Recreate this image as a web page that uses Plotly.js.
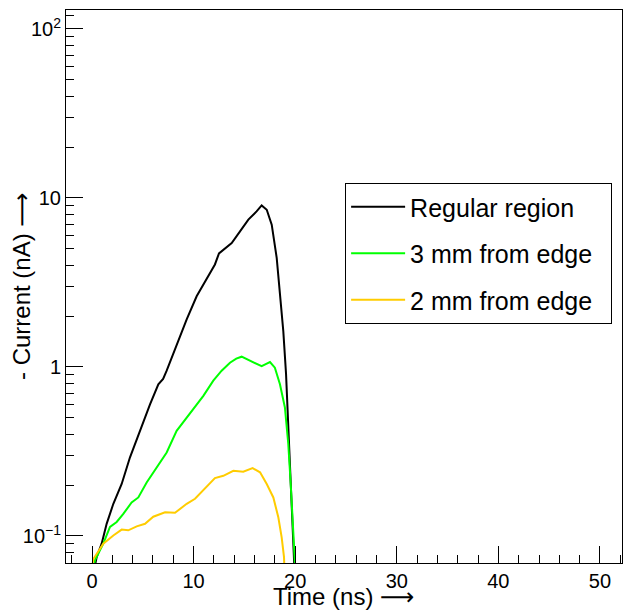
<!DOCTYPE html>
<html>
<head>
<meta charset="utf-8">
<script src="https://cdn.plot.ly/plotly-3.0.1.min.js"></script>
<style>html,body{margin:0;padding:0;background:#fff}#plot{width:628px;height:613px}</style>
</head>
<body>
<div id="plot"></div>
<script>
// Time (ns) and -Current (nA)
const regularTime = [0.0, 0.46, 0.95, 1.44, 2.1, 2.92, 3.74, 4.72, 5.71, 6.53, 7.0, 7.35, 8.33, 9.32, 10.3, 11.29, 12.1, 12.5, 12.93, 13.75, 14.57, 15.39, 16.2, 16.7, 17.2, 17.69, 18.18, 18.5, 18.83, 19.1, 19.32, 19.56, 19.75, 19.88, 20.0];
const regularCurrent = [0.055, 0.075, 0.090, 0.118, 0.155, 0.203, 0.292, 0.419, 0.60, 0.79, 0.85, 0.95, 1.36, 1.91, 2.62, 3.29, 4.04, 4.7, 4.95, 5.41, 6.34, 7.44, 8.32, 9.03, 8.51, 6.95, 4.42, 2.81, 1.63, 0.91, 0.46, 0.233, 0.118, 0.075, 0.05];

const edge3Time = [0.0, 0.3, 1.11, 1.77, 2.43, 3.08, 3.9, 4.56, 5.38, 6.36, 7.35, 8.33, 9.32, 10.14, 10.96, 11.94, 12.76, 13.58, 14.2, 14.73, 15.72, 16.7, 17.1, 17.52, 18.0, 18.5, 18.99, 19.32, 19.56, 19.75, 19.98, 20.1];
const edge3Current = [0.06, 0.072, 0.090, 0.113, 0.121, 0.135, 0.158, 0.169, 0.207, 0.255, 0.312, 0.419, 0.502, 0.575, 0.675, 0.83, 0.95, 1.06, 1.12, 1.15, 1.08, 1.01, 1.04, 1.07, 0.99, 0.79, 0.575, 0.35, 0.203, 0.118, 0.075, 0.05];

const edge2Time = [0.0, 0.13, 1.11, 2.1, 2.92, 3.57, 4.4, 5.22, 6.03, 7.19, 8.17, 9.32, 10.14, 11.12, 12.1, 12.93, 13.91, 14.89, 15.81, 16.54, 17.2, 17.85, 18.34, 18.67, 18.9, 19.0];
const edge2Current = [0.065, 0.073, 0.090, 0.1007, 0.109, 0.108, 0.114, 0.118, 0.130, 0.138, 0.137, 0.155, 0.166, 0.19, 0.22, 0.227, 0.243, 0.24, 0.252, 0.238, 0.203, 0.169, 0.129, 0.098, 0.075, 0.05];

const seriesNames = ["Regular region", "3 mm from edge", "2 mm from edge"];
const seriesColors = ["#000000", "#00ff00", "#ffcc00"];

const yMajorVals = [0.1, 1, 10, 100];
const yMajorText = ["10<sup>\u22121</sup>", "1", "10", "10<sup>2</sup>"];
const yMinorVals = [0.07, 0.08, 0.09, 0.2, 0.3, 0.4, 0.5, 0.6, 0.7, 0.8, 0.9, 2, 3, 4, 5, 6, 7, 8, 9, 20, 30, 40, 50, 60, 70, 80, 90, 120];

const xTitle = "Time (ns)";
const yTitle = "- Current (nA)";

const FONT = "Liberation Sans, Arial, Helvetica, sans-serif";
const ARROW = ' <span style="font-family:DejaVu Sans">\u27F6</span>';
const PAD = "\u00a0\u00a0";

const xs = [regularTime, edge3Time, edge2Time];
const ys = [regularCurrent, edge3Current, edge2Current];
const traces = xs.map((x, i) => ({
  x: x, y: ys[i], type: "scatter", mode: "lines",
  name: seriesNames[i] + PAD, legendgroup: "g" + i,
  line: {color: seriesColors[i], width: 2}
}));

const layout = {
  width: 628, height: 613,
  margin: {l: 66, r: 6, t: 10, b: 50},
  paper_bgcolor: "#fff", plot_bgcolor: "#fff",
  font: {family: FONT, color: "#000", size: 20},
  showlegend: true,
  legend: {
    x: 0.502, y: 0.687, xanchor: "left", yanchor: "top",
    bordercolor: "#000", borderwidth: 1, bgcolor: "#fff",
    font: {family: FONT, size: 25, color: "#000"},
    traceorder: "grouped", tracegroupgap: 11,
    itemwidth: 54
  },
  xaxis: {
    range: [-2.56, 52.17], showgrid: false, zeroline: false,
    showline: true, linecolor: "#000", linewidth: 1, mirror: true,
    ticks: "inside", ticklen: 17, tickcolor: "#000", tickwidth: 1,
    tickmode: "linear", tick0: 0, dtick: 10,
    tickfont: {family: FONT, size: 20},
    minor: {ticks: "inside", ticklen: 8, tickcolor: "#000", dtick: 2, tick0: 0, showgrid: false}
  },
  yaxis: {
    type: "log", range: [-1.16, 2.112], showgrid: false, zeroline: false,
    showline: true, linecolor: "#000", linewidth: 1, mirror: true,
    ticks: "inside", ticklen: 17, tickcolor: "#000", tickwidth: 1,
    tickmode: "array", tickvals: yMajorVals, ticktext: yMajorText,
    tickfont: {family: FONT, size: 20},
    minor: {ticks: "inside", ticklen: 8, tickcolor: "#000", tickmode: "array", tickvals: yMinorVals, showgrid: false}
  },
  annotations: [
    {text: xTitle + ARROW, xref: "paper", yref: "paper", x: 0.5, y: -0.062, xanchor: "center", yanchor: "middle",
     showarrow: false, font: {family: FONT, size: 24}},
    {text: yTitle + ARROW, xref: "paper", yref: "paper", x: -0.08, y: 0.50, xanchor: "center", yanchor: "middle",
     textangle: -90, showarrow: false, font: {family: FONT, size: 24}}
  ]
};

Plotly.newPlot("plot", traces, layout, {displayModeBar: false, staticPlot: true});
</script>
</body>
</html>
